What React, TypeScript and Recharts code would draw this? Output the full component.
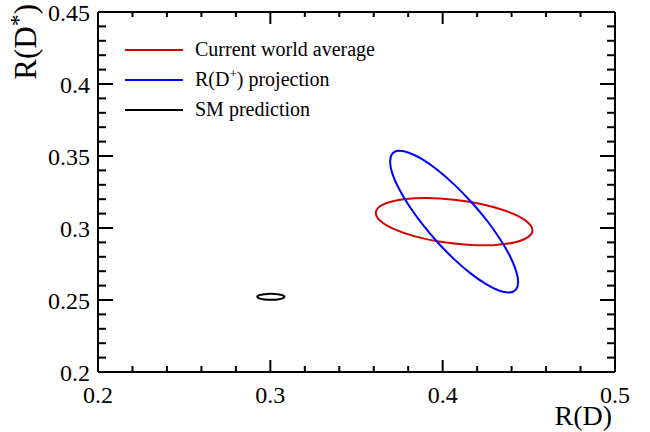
import React from 'react';
import { ScatterChart, Scatter, XAxis, YAxis } from 'recharts';

// Current world average contour
const worldAvgX = [0.4521, 0.4493, 0.4414, 0.4293, 0.4145, 0.3987, 0.3839, 0.3718, 0.3639, 0.3612, 0.3639, 0.3718, 0.3839, 0.3987, 0.4145, 0.4293, 0.4414, 0.4493];
const worldAvgY = [0.2983, 0.2935, 0.2899, 0.2881, 0.2883, 0.2904, 0.2942, 0.2992, 0.3048, 0.3104, 0.3153, 0.3188, 0.3206, 0.3205, 0.3184, 0.3146, 0.3096, 0.304];

// R(D+) projection contour
const projX = [0.4438, 0.4425, 0.4388, 0.4329, 0.4252, 0.4162, 0.4066, 0.397, 0.3881, 0.3804, 0.3745, 0.3707, 0.3695, 0.3707, 0.3745, 0.3804, 0.3881, 0.397, 0.4066, 0.4162, 0.4252, 0.4329, 0.4388, 0.4425];
const projY = [0.2625, 0.2572, 0.2552, 0.2564, 0.261, 0.2685, 0.2784, 0.2901, 0.3028, 0.3156, 0.3276, 0.3381, 0.3462, 0.3515, 0.3536, 0.3523, 0.3478, 0.3403, 0.3303, 0.3186, 0.3059, 0.2931, 0.2811, 0.2706];

// SM prediction contour
const smX = [0.3082, 0.3071, 0.3043, 0.3003, 0.2964, 0.2935, 0.2924, 0.2935, 0.2964, 0.3003, 0.3043, 0.3071];
const smY = [0.2522, 0.2533, 0.254, 0.2543, 0.254, 0.2533, 0.2522, 0.2511, 0.2504, 0.2501, 0.2504, 0.2511];

const xTicks = [0.2, 0.22, 0.24, 0.26, 0.28, 0.3, 0.32, 0.34, 0.36, 0.38, 0.4, 0.42, 0.44, 0.46, 0.48, 0.5];
const xMajor = [0.2, 0.3, 0.4, 0.5];
const xLabels = ['0.2', '0.3', '0.4', '0.5'];
const yTicks = [0.2, 0.21, 0.22, 0.23, 0.24, 0.25, 0.26, 0.27, 0.28, 0.29, 0.3, 0.31, 0.32, 0.33, 0.34, 0.35, 0.36, 0.37, 0.38, 0.39, 0.4, 0.41, 0.42, 0.43, 0.44, 0.45];
const yMajor = [0.2, 0.25, 0.3, 0.35, 0.4, 0.45];
const yLabels = ['0.2', '0.25', '0.3', '0.35', '0.4', '0.45'];

const FONT = "'Liberation Serif', 'Times New Roman', serif";

const toPoints = (xs: number[], ys: number[]) => xs.map((x, i) => ({ x, y: ys[i] }));
const worldAvg = toPoints(worldAvgX, worldAvgY);
const proj = toPoints(projX, projY);
const sm = toPoints(smX, smY);

const majorIndex = (v: number, majors: number[]) => majors.findIndex((m) => Math.abs(m - v) < 1e-9);

// closed smooth curve through points (Catmull-Rom)
const closedSmooth = (context: any) => {
  let pts: number[][] = [];
  return {
    areaStart() {},
    areaEnd() {},
    lineStart() {
      pts = [];
    },
    point(x: number, y: number) {
      pts.push([+x, +y]);
    },
    lineEnd() {
      const n = pts.length;
      if (!n) return;
      context.moveTo(pts[0][0], pts[0][1]);
      for (let i = 0; i < n; i++) {
        const p0 = pts[(i - 1 + n) % n];
        const p1 = pts[i];
        const p2 = pts[(i + 1) % n];
        const p3 = pts[(i + 2) % n];
        context.bezierCurveTo(
          p1[0] + (p2[0] - p0[0]) / 6,
          p1[1] + (p2[1] - p0[1]) / 6,
          p2[0] - (p3[0] - p1[0]) / 6,
          p2[1] - (p3[1] - p1[1]) / 6,
          p2[0],
          p2[1]
        );
      }
      context.closePath();
    },
  };
};

const BottomTick = (props: any) => {
  const { x, y, payload } = props;
  const mi = majorIndex(payload.value, xMajor);
  const len = mi >= 0 ? 12 : 6;
  return (
    <g>
      <line x1={x} x2={x} y1={y} y2={y - len} stroke="#000" strokeWidth={2} />
      {mi >= 0 && (
        <text x={x} y={y + 31} textAnchor="middle" fontSize={24} fontFamily={FONT} fill="#000">
          {xLabels[mi]}
        </text>
      )}
    </g>
  );
};

const TopTick = (props: any) => {
  const { x, y, payload } = props;
  const mi = majorIndex(payload.value, xMajor);
  const len = mi >= 0 ? 12 : 5;
  return <line x1={x} x2={x} y1={y} y2={y + len} stroke="#000" strokeWidth={2} />;
};

const LeftTick = (props: any) => {
  const { x, y, payload } = props;
  const mi = majorIndex(payload.value, yMajor);
  const len = mi >= 0 ? 15 : 8;
  return (
    <g>
      <line x1={x} x2={x + len} y1={y} y2={y} stroke="#000" strokeWidth={2} />
      {mi >= 0 && (
        <text x={x - 8} y={y + 9} textAnchor="end" fontSize={24} fontFamily={FONT} fill="#000">
          {yLabels[mi]}
        </text>
      )}
    </g>
  );
};

const RightTick = (props: any) => {
  const { x, y, payload } = props;
  const mi = majorIndex(payload.value, yMajor);
  const len = mi >= 0 ? 15 : 8;
  return <line x1={x} x2={x - len} y1={y} y2={y} stroke="#000" strokeWidth={2} />;
};

const NoShape = () => <g />;

const legendItems = [
  { color: '#d40000', key: 'wa' },
  { color: '#0000ff', key: 'proj' },
  { color: '#000000', key: 'sm' },
];

export default function App() {
  return (
    <div style={{ position: 'absolute', left: 0, top: 0, width: 650, height: 432, background: '#fff' }}>
      <ScatterChart width={650} height={432} margin={{ top: 11, right: 34, bottom: 59, left: 97 }}>
        <XAxis
          type="number"
          dataKey="x"
          domain={[0.2, 0.5]}
          ticks={xTicks}
          interval={0}
          height={1}
          tickSize={0}
          tickMargin={0}
          allowDataOverflow
          axisLine={{ stroke: '#000', strokeWidth: 2 }}
          tick={<BottomTick />}
        />
        <XAxis
          xAxisId="top"
          orientation="top"
          type="number"
          dataKey="x"
          domain={[0.2, 0.5]}
          ticks={xTicks}
          interval={0}
          height={1}
          tickSize={0}
          tickMargin={0}
          allowDataOverflow
          axisLine={{ stroke: '#000', strokeWidth: 2 }}
          tick={<TopTick />}
        />
        <YAxis
          type="number"
          dataKey="y"
          domain={[0.2, 0.45]}
          ticks={yTicks}
          interval={0}
          width={1}
          tickSize={0}
          tickMargin={0}
          allowDataOverflow
          axisLine={{ stroke: '#000', strokeWidth: 2 }}
          tick={<LeftTick />}
        />
        <YAxis
          yAxisId="right"
          orientation="right"
          type="number"
          dataKey="y"
          domain={[0.2, 0.45]}
          ticks={yTicks}
          interval={0}
          width={1}
          tickSize={0}
          tickMargin={0}
          allowDataOverflow
          axisLine={{ stroke: '#000', strokeWidth: 2 }}
          tick={<RightTick />}
        />
        <Scatter
          data={worldAvg}
          line={{ stroke: '#d40000', strokeWidth: 2 }}
          lineJointType={closedSmooth as any}
          shape={<NoShape />}
          isAnimationActive={false}
        />
        <Scatter
          data={proj}
          line={{ stroke: '#0000ff', strokeWidth: 2 }}
          lineJointType={closedSmooth as any}
          shape={<NoShape />}
          isAnimationActive={false}
        />
        <Scatter
          data={sm}
          line={{ stroke: '#000000', strokeWidth: 2 }}
          lineJointType={closedSmooth as any}
          shape={<NoShape />}
          isAnimationActive={false}
        />
      </ScatterChart>
      <svg
        width={650}
        height={432}
        style={{ position: 'absolute', left: 0, top: 0, pointerEvents: 'none' }}
        fontFamily={FONT}
      >
        <text x={612} y={425} textAnchor="end" fontSize={28} fill="#000">
          R(D)
        </text>
        <text transform="rotate(-90)" x={-4} y={36} textAnchor="end" fontSize={31} fill="#000">
          <tspan>R(D</tspan>
          <tspan dy={-10} fontSize={24}>*</tspan>
          <tspan dy={10}>)</tspan>
        </text>
        {legendItems.map((it, i) => (
          <line key={it.key} x1={125} x2={183} y1={50 + i * 30} y2={50 + i * 30} stroke={it.color} strokeWidth={2} />
        ))}
        <text x={195} y={56} fontSize={20} fill="#000">
          Current world average
        </text>
        <text x={195} y={86} fontSize={20} fill="#000">
          <tspan>R(D</tspan>
          <tspan dy={-8} fontSize={13}>+</tspan>
          <tspan dy={8}>) projection</tspan>
        </text>
        <text x={195} y={116} fontSize={20} fill="#000">
          SM prediction
        </text>
      </svg>
    </div>
  );
}
